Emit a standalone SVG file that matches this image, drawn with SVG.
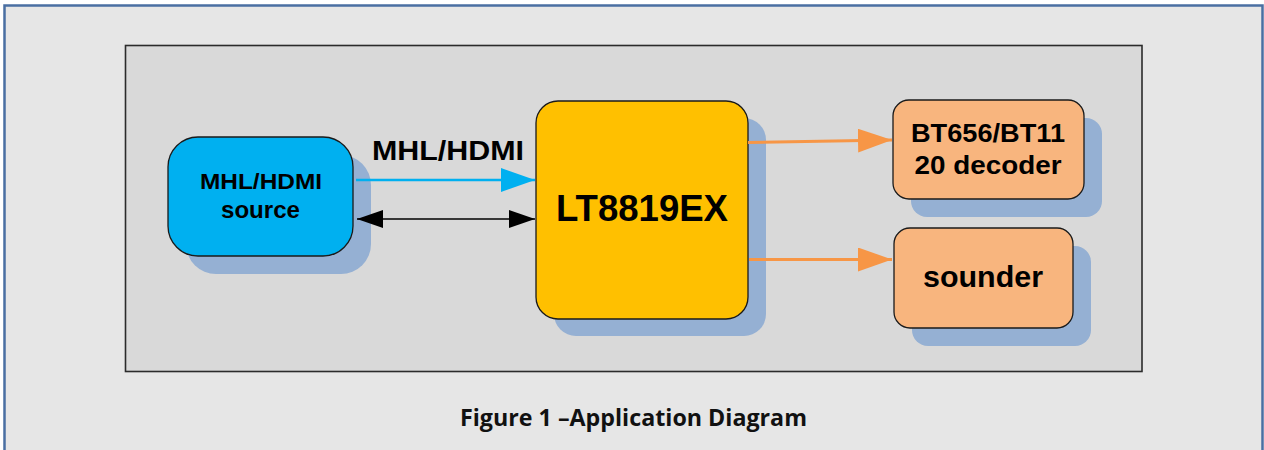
<svg xmlns="http://www.w3.org/2000/svg" width="1264" height="450" viewBox="0 0 1264 450">
<style>
.shadow{fill:#95B0D3;}
.box{stroke:#1a1a1a;stroke-width:1.3;}
.lbl{font-family:"Liberation Sans",Arial,sans-serif;font-weight:bold;fill:#000;text-anchor:middle;}
</style>
<defs>
<marker id="hBlue" markerUnits="userSpaceOnUse" markerWidth="34" markerHeight="24" viewBox="0 0 34 24" refX="34" refY="12" orient="auto">
<path d="M0,0 L34,12 L0,24 Z" fill="#00B0F0"/>
</marker>
<marker id="hOrange" markerUnits="userSpaceOnUse" markerWidth="34" markerHeight="24" viewBox="0 0 34 24" refX="34" refY="12" orient="auto">
<path d="M0,0 L34,12 L0,24 Z" fill="#F79646"/>
</marker>
<marker id="hBlackEnd" markerUnits="userSpaceOnUse" markerWidth="26" markerHeight="18" viewBox="0 0 26 18" refX="26" refY="9" orient="auto">
<path d="M0,0 L26,9 L0,18 Z" fill="#000"/>
</marker>
<marker id="hBlackStart" markerUnits="userSpaceOnUse" markerWidth="26" markerHeight="18" viewBox="0 0 26 18" refX="0" refY="9" orient="auto">
<path d="M26,0 L0,9 L26,18 Z" fill="#000"/>
</marker>
</defs>
<rect x="0" y="0" width="1264" height="450" fill="#fff"/>
<rect x="4.5" y="5.5" width="1258" height="470" fill="#E6E6E6" stroke="#4A6FA2" stroke-width="2.5"/>
<rect id="panel" x="125.5" y="45.5" width="1016.5" height="326" fill="#D9D9D9" stroke="#2b2b2b" stroke-width="1.6"/>

<g id="source">
<rect class="shadow" x="186" y="155" width="185" height="119" rx="30"/>
<rect class="box" x="168" y="137" width="185" height="119" rx="30" fill="#00B0F0"/>
<text class="lbl" x="261" y="189" font-size="22" textLength="122" lengthAdjust="spacingAndGlyphs">MHL/HDMI</text>
<text class="lbl" x="260.5" y="218" font-size="23" textLength="79" lengthAdjust="spacingAndGlyphs">source</text>
</g>

<g id="lt8819ex">
<rect class="shadow" x="554" y="118" width="212" height="218" rx="22"/>
<rect class="box" x="536" y="101" width="212" height="218" rx="22" fill="#FFC000"/>
<text class="lbl" x="642" y="221" font-size="37" textLength="172" lengthAdjust="spacingAndGlyphs">LT8819EX</text>
</g>

<g id="decoder">
<rect class="shadow" x="911" y="118" width="191" height="99" rx="16"/>
<rect class="box" x="893" y="100" width="191" height="99" rx="16" fill="#F8B57E"/>
<text class="lbl" x="988" y="142" font-size="26" textLength="154" lengthAdjust="spacingAndGlyphs">BT656/BT11</text>
<text class="lbl" x="988" y="174" font-size="26" textLength="147" lengthAdjust="spacingAndGlyphs">20 decoder</text>
</g>

<g id="sounder">
<rect class="shadow" x="912" y="246" width="179" height="100" rx="16"/>
<rect class="box" x="894" y="228" width="179" height="100" rx="16" fill="#F8B57E"/>
<text class="lbl" x="983" y="287" font-size="30" textLength="120" lengthAdjust="spacingAndGlyphs">sounder</text>
</g>

<g id="connectors">
<line x1="356" y1="180" x2="535" y2="180" stroke="#00B0F0" stroke-width="2.6" marker-end="url(#hBlue)"/>
<line x1="357" y1="219" x2="535" y2="219" stroke="#000" stroke-width="1.5" marker-start="url(#hBlackStart)" marker-end="url(#hBlackEnd)"/>
<line x1="748" y1="142.5" x2="892" y2="140" stroke="#F79646" stroke-width="3" marker-end="url(#hOrange)"/>
<line x1="749" y1="259.5" x2="892" y2="259.5" stroke="#F79646" stroke-width="3" marker-end="url(#hOrange)"/>
<text class="lbl" x="448" y="160" font-size="28" textLength="152" lengthAdjust="spacingAndGlyphs">MHL/HDMI</text>
</g>

<text id="caption" x="633.5" y="426" font-family="'Open Sans',Lato,sans-serif" font-weight="bold" font-size="23" fill="#111" text-anchor="middle" textLength="347" lengthAdjust="spacingAndGlyphs">Figure 1 –Application Diagram</text>
</svg>
